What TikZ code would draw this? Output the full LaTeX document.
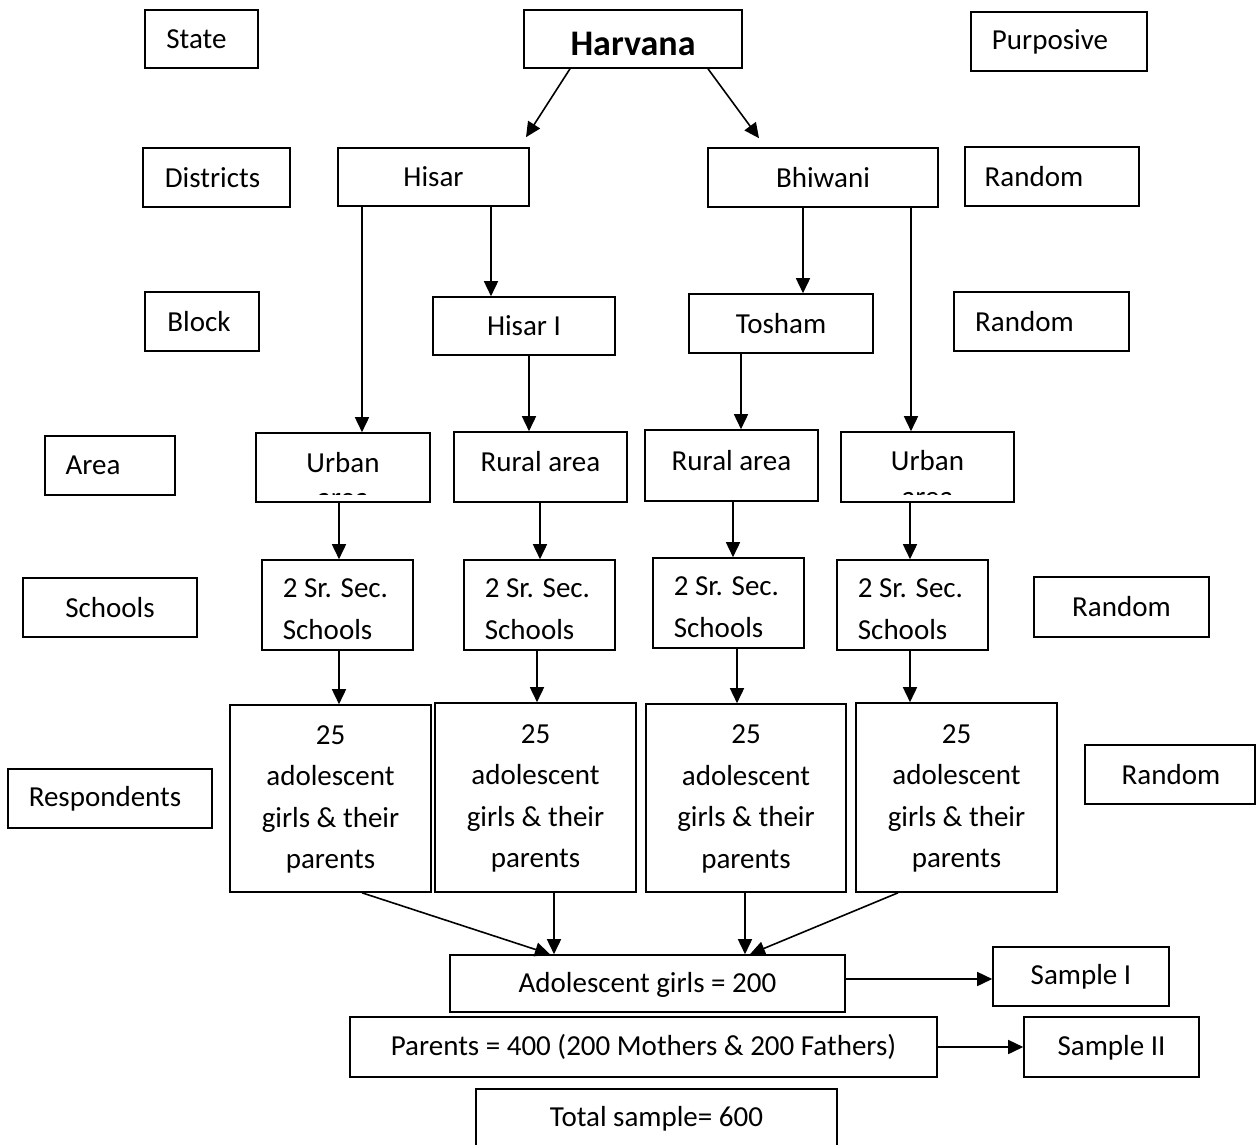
\documentclass[tikz,border=0pt]{standalone}
\usepackage{fontspec}
\setmainfont{Carlito}
\usetikzlibrary{arrows.meta,calc}
\newcommand\tf{\fontsize{29}{41.5}\selectfont}
\tikzset{
 box/.style={draw,line width=1.6pt,inner sep=0pt},
 txt/.style={inner sep=0pt,font=\tf,align=center},
 ltxt/.style={inner sep=0pt,font=\tf,align=left},
 arr/.style={line width=1.6pt,-{Triangle[length=15pt,width=14pt]}},
}
% name, x1, y1, x2, y2, text, dx, dy
\newcommand\bx[8]{%
 \node[box,minimum width={#4pt-#2pt},minimum height={#5pt-#3pt}] (#1) at ({(#2+#4)/2},{(#3+#5)/2}) {};
 \node[txt] (#1t) at ([xshift=#7pt,yshift=#8pt]#1.center) {#6};}
\newcommand\lbx[8]{%
 \node[box,minimum width={#4pt-#2pt},minimum height={#5pt-#3pt}] (#1) at ({(#2+#4)/2},{(#3+#5)/2}) {};
 \node[ltxt] (#1t) at ([xshift=#7pt,yshift=#8pt]#1.center) {#6};}
\begin{document}
\begin{tikzpicture}[x=1pt,y=-1pt]
\useasboundingbox (0,0) rectangle (1256,1144);
\clip (0,0) rectangle (1256,1144);
% left column
\bx{state}{145}{10}{258}{68}{State}{-5}{0}
\bx{dist}{143}{148}{290}{207}{Districts}{-4}{0}
\bx{block}{145}{292}{259}{351}{Block}{-3}{0}
\bx{area}{45}{436}{175}{495}{Area}{-17}{0}
\bx{sch}{23}{578}{197}{637}{Schools}{0}{0}
\bx{resp}{8}{769}{212}{828}{Respondents}{-5}{0}
% right column
\bx{purp}{971}{12}{1147}{71}{Purposive}{-9}{0}
\bx{rnda}{965}{147}{1139}{206}{Random}{-18}{0}
\bx{rndb}{954}{292}{1129}{351}{Random}{-17}{0}
\bx{rndc}{1034}{577}{1209}{637}{Random}{0}{0}
\bx{rndd}{1085}{745}{1255}{804}{Random}{1}{0}
% centre
\node[box,minimum width=218pt,minimum height=58pt] (har) at (633,39) {};
\begin{scope}
 \clip (har.north west) rectangle (har.east |- 0,57);
 \node[inner sep=0pt,anchor=base,font=\bfseries\fontsize{36}{40}\selectfont] (hart) at (har.center |- 0,55) {Harvana};
\end{scope}
\bx{hisar}{338}{148}{529}{206}{Hisar}{0}{0}
\bx{bhi}{708}{148}{938}{207}{Bhiwani}{0}{0}
\bx{hisarone}{433}{297}{615}{355}{Hisar I}{0}{0}
\bx{tosham}{689}{294}{873}{353}{Tosham}{0}{0}
\bx{ua}{256}{433}{430}{502}{Urban}{0}{5}
\bx{rua}{454}{432}{627}{502}{Rural area}{0}{5}
\bx{rub}{645}{430}{818}{501}{Rural area}{0}{5}
\bx{ub}{841}{432}{1014}{502}{Urban}{0}{6}
\begin{scope}
 \clip (ua.north west) rectangle (ua.east |- 0,494);
 \node[inner sep=0pt,anchor=base,font=\tf] (uaarea) at (ua.center |- 0,507) {area};
\end{scope}
\begin{scope}
 \clip (ub.north west) rectangle (ub.east |- 0,494);
 \node[inner sep=0pt,anchor=base,font=\tf] (ubarea) at (ub.center |- 0,506) {area};
\end{scope}
\lbx{sa}{262}{560}{413}{650}{2 Sr. Sec.\\Schools}{-2}{-4}
\lbx{sb}{464}{560}{615}{650}{2 Sr. Sec.\\Schools}{-2}{-4}
\lbx{sc}{653}{558}{804}{648}{2 Sr. Sec.\\Schools}{-2}{-4}
\lbx{sd}{837}{560}{988}{650}{2 Sr. Sec.\\Schools}{-2}{-4}
\bx{pa}{230}{705}{431}{892}{25\\adolescent\\girls \& their\\parents}{0}{-1}
\bx{pb}{435}{703}{636}{892}{25\\adolescent\\girls \& their\\parents}{0}{-1}
\bx{pc}{646}{704}{846}{892}{25\\adolescent\\girls \& their\\parents}{0}{-1}
\bx{pd}{856}{703}{1057}{892}{25\\adolescent\\girls \& their\\parents}{0}{-1}
\bx{ado}{450}{955}{845}{1012}{Adolescent girls = 200}{0}{-1}
\bx{par}{350}{1017}{937}{1077}{Parents = 400 (200 Mothers \& 200 Fathers)}{0}{0}
\bx{tot}{476}{1089}{837}{1147}{Total sample= 600}{0}{-1}
\bx{samone}{993}{947}{1169}{1006}{Sample I}{0}{0}
\bx{samtwo}{1024}{1017}{1199}{1077}{Sample II}{0}{-1}
% connectors
\draw[arr] (har.south -| 570,0) -- ($(hisar.north -| 526,0)+(0,-10)$);
\draw[arr] (har.south -| 708,0) -- ($(bhi.north -| 759,0)+(0,-9)$);
\draw[arr] (hisar.south -| 362,0) -- (ua.north -| 362,0);
\draw[arr] (hisar.south -| 491,0) -- (hisarone.north -| 491,0);
\draw[arr] (bhi.south -| 803,0) -- (tosham.north -| 803,0);
\draw[arr] (bhi.south -| 911,0) -- (ub.north -| 911,0);
\draw[arr] (hisarone.south -| 529,0) -- (rua.north -| 529,0);
\draw[arr] (tosham.south -| 741,0) -- (rub.north -| 741,0);
\draw[arr] (ua.south -| 339,0) -- (sa.north -| 339,0);
\draw[arr] (rua.south -| 540,0) -- (sb.north -| 540,0);
\draw[arr] (rub.south -| 733,0) -- (sc.north -| 733,0);
\draw[arr] (ub.south -| 910,0) -- (sd.north -| 910,0);
\draw[arr] (sa.south -| 339,0) -- (pa.north -| 339,0);
\draw[arr] (sb.south -| 537,0) -- (pb.north -| 537,0);
\draw[arr] (sc.south -| 737,0) -- (pc.north -| 737,0);
\draw[arr] (sd.south -| 910,0) -- (pd.north -| 910,0);
\draw[arr] (pa.south -| 362,0) -- (ado.north -| 550,0);
\draw[arr] (pb.south -| 554,0) -- (ado.north -| 554,0);
\draw[arr] (pc.south -| 745,0) -- (ado.north -| 745,0);
\draw[arr] (pd.south -| 898,0) -- (ado.north -| 750,0);
\draw[arr] (ado.east |- 0,979) -- (samone.west |- 0,979);
\draw[arr] (par.east |- 0,1047) -- (samtwo.west |- 0,1047);
\end{tikzpicture}
\end{document}
